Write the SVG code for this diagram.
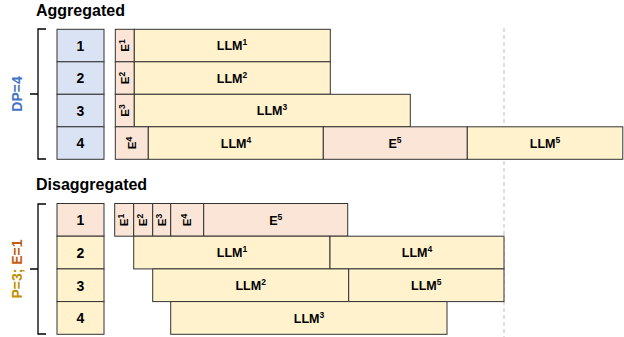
<svg xmlns="http://www.w3.org/2000/svg" width="624" height="337" viewBox="0 0 624 337">
<style>
text{font-family:"Liberation Sans",Arial,sans-serif;font-weight:bold;fill:#000}
.t{font-size:16px}
.n{font-size:14px;text-anchor:middle}
.l{font-size:12.5px;text-anchor:middle}
.e{font-size:11.5px;text-anchor:middle}
.s{font-size:8.5px}
.bx{stroke:#333;stroke-width:1}
.blue{fill:#dae3f3}
.llm{fill:#fff2cc}
.enc{fill:#fbe5d6}
.br{fill:none;stroke:#000;stroke-width:1.3}
</style>
<rect width="624" height="337" fill="#fff"/>
<line x1="504" y1="28" x2="504" y2="337" stroke="#c8c8c8" stroke-width="1.2" stroke-dasharray="4,3"/>

<text class="t" x="36" y="16">Aggregated</text>
<text class="t" x="36" y="190">Disaggregated</text>

<g id="bracket-agg">
<path class="br" d="M46,29 H38 V159 H46 M38,94 H30"/>
<text x="17" y="94" transform="rotate(-90 17 94)" text-anchor="middle" dominant-baseline="central" style="font-size:14px;fill:#4472c4">DP=4</text>
</g>
<g id="bracket-dis">
<path class="br" d="M46,204 H38 V334 H46 M38,269 H30"/>
<text x="17" y="269" transform="rotate(-90 17 269)" text-anchor="middle" dominant-baseline="central" style="font-size:14px"><tspan style="fill:#bf9000">P=3; </tspan><tspan style="fill:#c55a11">E=1</tspan></text>
</g>

<g id="agg-gpus">
<rect class="bx blue" x="57" y="29.3" width="47" height="32.5"/>
<rect class="bx blue" x="57" y="61.8" width="47" height="32.5"/>
<rect class="bx blue" x="57" y="94.3" width="47" height="32.5"/>
<rect class="bx blue" x="57" y="126.8" width="47" height="32.5"/>
<text class="n" x="80.5" y="50.5">1</text>
<text class="n" x="80.5" y="83">2</text>
<text class="n" x="80.5" y="115.5">3</text>
<text class="n" x="80.5" y="148">4</text>
</g>

<g id="agg-row1">
<rect class="bx enc" x="115.3" y="29.3" width="19" height="32.5"/>
<rect class="bx llm" x="134.3" y="29.3" width="196" height="32.5"/>
<text class="e" transform="translate(129,45.5) rotate(-90)">E<tspan class="s" dy="-4">1</tspan></text>
<text class="l" x="232" y="50">LLM<tspan class="s" dy="-5">1</tspan></text>
</g>
<g id="agg-row2">
<rect class="bx enc" x="115.3" y="61.8" width="19" height="32.5"/>
<rect class="bx llm" x="134.3" y="61.8" width="196" height="32.5"/>
<text class="e" transform="translate(129,78) rotate(-90)">E<tspan class="s" dy="-4">2</tspan></text>
<text class="l" x="232" y="82.5">LLM<tspan class="s" dy="-5">2</tspan></text>
</g>
<g id="agg-row3">
<rect class="bx enc" x="115.3" y="94.3" width="19" height="32.5"/>
<rect class="bx llm" x="134.3" y="94.3" width="276" height="32.5"/>
<text class="e" transform="translate(129,110.5) rotate(-90)">E<tspan class="s" dy="-4">3</tspan></text>
<text class="l" x="272" y="115">LLM<tspan class="s" dy="-5">3</tspan></text>
</g>
<g id="agg-row4">
<rect class="bx enc" x="115.3" y="126.8" width="33" height="32.5"/>
<rect class="bx llm" x="148.3" y="126.8" width="175" height="32.5"/>
<rect class="bx enc" x="323.3" y="126.8" width="144" height="32.5"/>
<rect class="bx llm" x="467.3" y="126.8" width="155.5" height="32.5"/>
<text class="e" transform="translate(136,143) rotate(-90)">E<tspan class="s" dy="-4">4</tspan></text>
<text class="l" x="236" y="147.5">LLM<tspan class="s" dy="-5">4</tspan></text>
<text class="l" x="395" y="147.5">E<tspan class="s" dy="-5">5</tspan></text>
<text class="l" x="545" y="147.5">LLM<tspan class="s" dy="-5">5</tspan></text>
</g>

<g id="dis-gpus">
<rect class="bx enc" x="57" y="203.5" width="47" height="32.7"/>
<rect class="bx llm" x="57" y="236.2" width="47" height="32.7"/>
<rect class="bx llm" x="57" y="268.9" width="47" height="32.7"/>
<rect class="bx llm" x="57" y="301.6" width="47" height="32.7"/>
<text class="n" x="80.5" y="225">1</text>
<text class="n" x="80.5" y="257.5">2</text>
<text class="n" x="80.5" y="290.5">3</text>
<text class="n" x="80.5" y="323">4</text>
</g>

<g id="dis-row1">
<rect class="bx enc" x="114.7" y="203.5" width="19" height="32.7"/>
<rect class="bx enc" x="133.7" y="203.5" width="19" height="32.7"/>
<rect class="bx enc" x="152.7" y="203.5" width="18" height="32.7"/>
<rect class="bx enc" x="170.7" y="203.5" width="33" height="32.7"/>
<rect class="bx enc" x="203.7" y="203.5" width="144" height="32.7"/>
<text class="e" transform="translate(128.4,220) rotate(-90)">E<tspan class="s" dy="-4">1</tspan></text>
<text class="e" transform="translate(147.4,220) rotate(-90)">E<tspan class="s" dy="-4">2</tspan></text>
<text class="e" transform="translate(165.9,220) rotate(-90)">E<tspan class="s" dy="-4">3</tspan></text>
<text class="e" transform="translate(191.4,220) rotate(-90)">E<tspan class="s" dy="-4">4</tspan></text>
<text class="l" x="275.7" y="224.5">E<tspan class="s" dy="-5">5</tspan></text>
</g>
<g id="dis-row2">
<rect class="bx llm" x="133.7" y="236.2" width="196.3" height="32.7"/>
<rect class="bx llm" x="330" y="236.2" width="174" height="32.7"/>
<text class="l" x="232" y="257">LLM<tspan class="s" dy="-5">1</tspan></text>
<text class="l" x="417" y="257">LLM<tspan class="s" dy="-5">4</tspan></text>
</g>
<g id="dis-row3">
<rect class="bx llm" x="152.7" y="268.9" width="196" height="32.7"/>
<rect class="bx llm" x="348.7" y="268.9" width="155.3" height="32.7"/>
<text class="l" x="250.7" y="290">LLM<tspan class="s" dy="-5">2</tspan></text>
<text class="l" x="426.3" y="290">LLM<tspan class="s" dy="-5">5</tspan></text>
</g>
<g id="dis-row4">
<rect class="bx llm" x="170.7" y="301.6" width="276.3" height="32.7"/>
<text class="l" x="309" y="322.5">LLM<tspan class="s" dy="-5">3</tspan></text>
</g>
</svg>
